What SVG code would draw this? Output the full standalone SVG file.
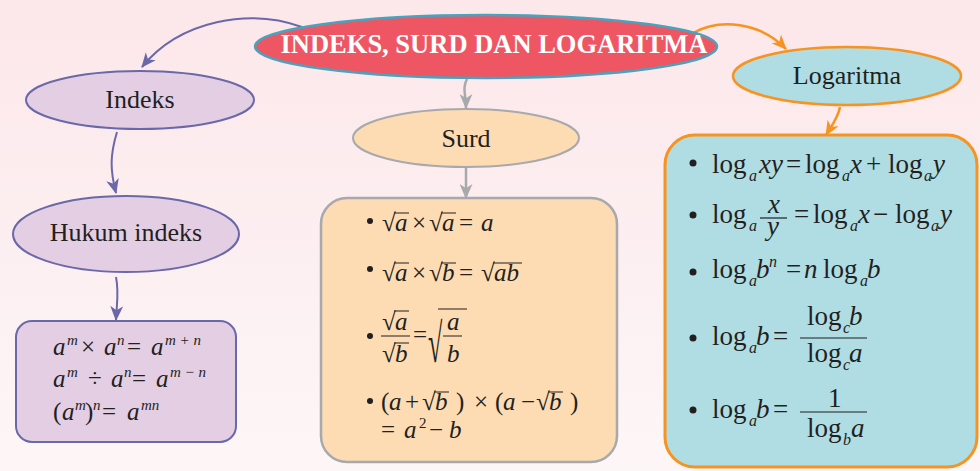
<svg xmlns="http://www.w3.org/2000/svg" width="980" height="471" viewBox="0 0 980 471">
<defs>
<linearGradient id="bg" x1="0" y1="0" x2="0" y2="1">
<stop offset="0" stop-color="#fce7ea"/>
<stop offset="1" stop-color="#fdf6f7"/>
</linearGradient>
<marker id="mP" viewBox="0 0 14 12" refX="13" refY="6" markerWidth="15" markerHeight="13" markerUnits="userSpaceOnUse" orient="auto"><path d="M0,0 L14,6 L0,12 L4,6 z" fill="#6a68a8"/></marker>
<marker id="mG" viewBox="0 0 14 12" refX="13" refY="6" markerWidth="15" markerHeight="13" markerUnits="userSpaceOnUse" orient="auto"><path d="M0,0 L14,6 L0,12 L4,6 z" fill="#a7a9ac"/></marker>
<marker id="mO" viewBox="0 0 14 12" refX="13" refY="6" markerWidth="15" markerHeight="13" markerUnits="userSpaceOnUse" orient="auto"><path d="M0,0 L14,6 L0,12 L4,6 z" fill="#f7931e"/></marker>
</defs>
<style>
.t{font-family:"Liberation Serif","Times New Roman",serif;fill:#231f20}
.lbl{font-size:26px;text-anchor:middle}
.f{font-size:25px}
.g{font-size:27px}
.i{font-style:italic}
.s{font-size:15px}
.s2{font-size:16px}
.bul{fill:#231f20}
.vp{stroke:#231f20;stroke-width:1.2;fill:none}
.cP{stroke:#6a68a8;stroke-width:2;fill:none}
.cG{stroke:#a7a9ac;stroke-width:2.5;fill:none}
.cO{stroke:#f7931e;stroke-width:2.5;fill:none}
</style>
<rect width="980" height="471" fill="url(#bg)"/>

<g id="connectors">
<path class="cP" d="M302 27 C250 8,180 20,142 67" marker-end="url(#mP)"/>
<path class="cP" d="M117 132 C110 155,110 170,116 193" marker-end="url(#mP)"/>
<path class="cP" d="M116 277 C119 292,117 300,116 320" marker-end="url(#mP)"/>
<path class="cG" d="M467 79 C462 88,466 95,466 108" marker-end="url(#mG)"/>
<path class="cG" d="M466 168 L466 198" marker-end="url(#mG)"/>
<path class="cO" d="M693 33 C720 18,760 22,786 49" marker-end="url(#mO)"/>
<path class="cO" d="M840 107 C838 118,832 125,826 135" marker-end="url(#mO)"/>
</g>

<g id="main">
<ellipse cx="486" cy="46.5" rx="231" ry="31.5" fill="#ef5663" stroke="#4aa2bd" stroke-width="2.5"/>
<text class="t" x="494" y="53" font-size="26.5" font-weight="bold" text-anchor="middle" style="fill:#ffffff">INDEKS, SURD DAN LOGARITMA</text>
</g>

<g id="indeks">
<ellipse cx="140" cy="100" rx="114" ry="29" fill="#e3cee4" stroke="#6a68a8" stroke-width="2"/>
<text class="t lbl" x="140" y="108">Indeks</text>
</g>

<g id="hukum">
<ellipse cx="126" cy="234" rx="113" ry="38" fill="#e3cee4" stroke="#6a68a8" stroke-width="2"/>
<text class="t lbl" x="126" y="241">Hukum indeks</text>
</g>

<g id="hukum-box">
<rect x="16" y="321" width="220" height="121" rx="16" fill="#e3cee4" stroke="#6a68a8" stroke-width="2"/>
<text class="t f"><tspan class="i" x="53" y="355">a</tspan><tspan class="i s" x="67" y="345">m</tspan><tspan x="81" y="355">×</tspan><tspan class="i" x="104" y="355">a</tspan><tspan class="i s" x="117" y="345">n</tspan><tspan x="127" y="355">=</tspan><tspan class="i" x="151" y="355">a</tspan><tspan class="i s" x="165" y="345">m + n</tspan></text>
<text class="t f"><tspan class="i" x="53" y="387">a</tspan><tspan class="i s" x="67" y="377">m</tspan><tspan x="88" y="387">÷</tspan><tspan class="i" x="111" y="387">a</tspan><tspan class="i s" x="124" y="377">n</tspan><tspan x="132" y="387">=</tspan><tspan class="i" x="156" y="387">a</tspan><tspan class="i s" x="170" y="377">m − n</tspan></text>
<text class="t f"><tspan x="53" y="420">(</tspan><tspan class="i" x="62" y="420">a</tspan><tspan class="i s" x="75" y="410">m</tspan><tspan x="85" y="420">)</tspan><tspan class="i s" x="93" y="410">n</tspan><tspan x="102" y="420">=</tspan><tspan class="i" x="127" y="420">a</tspan><tspan class="i s" x="141" y="410">mn</tspan></text>
</g>

<g id="surd">
<ellipse cx="466" cy="138" rx="113" ry="29" fill="#fddbb3" stroke="#a7a9ac" stroke-width="2"/>
<text class="t lbl" x="466" y="147">Surd</text>
</g>

<g id="surd-box">
<rect x="321" y="198" width="296" height="264" rx="26" fill="#fddbb3" stroke="#a7a9ac" stroke-width="2.5"/>
<circle class="bul" cx="370" cy="221" r="3"/>
<text class="t f" y="231"><tspan x="382">√</tspan><tspan class="i" x="395">a</tspan><tspan x="412">×</tspan><tspan x="429">√</tspan><tspan class="i" x="442">a</tspan><tspan x="459">=</tspan><tspan class="i" x="481">a</tspan></text>
<path class="vp" d="M394 213 H409 M441 213 H456"/>
<circle class="bul" cx="370" cy="269" r="3"/>
<text class="t f" y="281"><tspan x="382">√</tspan><tspan class="i" x="395">a</tspan><tspan x="412">×</tspan><tspan x="429">√</tspan><tspan class="i" x="442">b</tspan><tspan x="459">=</tspan><tspan x="481">√</tspan><tspan class="i" x="494">ab</tspan></text>
<path class="vp" d="M394 263 H409 M441 263 H456 M493 263 H522"/>
<circle class="bul" cx="370" cy="336" r="3"/>
<text class="t f"><tspan x="382" y="330">√</tspan><tspan class="i" x="395" y="330">a</tspan><tspan x="382" y="362">√</tspan><tspan class="i" x="395" y="362">b</tspan><tspan x="413" y="343">=</tspan><tspan class="i" x="447" y="330">a</tspan><tspan class="i" x="447" y="362">b</tspan></text>
<text class="t" font-size="26" transform="translate(428,362) scale(1,2.1)">√</text>
<path class="vp" d="M394 311 H409 M394 343 H409 M381 336 H410 M438 309 H467 M443 336 H462"/>
<circle class="bul" cx="370" cy="401" r="3"/>
<text class="t f" y="410"><tspan x="381">(</tspan><tspan class="i" x="389">a</tspan><tspan x="405">+</tspan><tspan x="422">√</tspan><tspan class="i" x="435">b</tspan><tspan x="456">)</tspan><tspan x="474">×</tspan><tspan x="495">(</tspan><tspan class="i" x="503">a</tspan><tspan x="521">−</tspan><tspan x="536">√</tspan><tspan class="i" x="549">b</tspan><tspan x="570">)</tspan></text>
<path class="vp" d="M434 392 H449 M548 392 H563"/>
<text class="t f"><tspan x="381" y="438">=</tspan><tspan class="i" x="404" y="438">a</tspan><tspan class="s" x="419" y="428">2</tspan><tspan x="429" y="438">−</tspan><tspan class="i" x="449" y="438">b</tspan></text>
</g>

<g id="logaritma">
<ellipse cx="847" cy="76" rx="114" ry="29" fill="#afdde3" stroke="#f7931e" stroke-width="2.5"/>
<text class="t lbl" x="847" y="84">Logaritma</text>
</g>

<g id="log-box">
<rect x="665" y="135" width="312" height="332" rx="30" fill="#afdde3" stroke="#f7931e" stroke-width="3"/>
<circle class="bul" cx="693" cy="163" r="3.5"/>
<text class="t g"><tspan x="712" y="173">log</tspan><tspan class="i s2" x="749" y="181">a</tspan><tspan class="i" x="759" y="173">xy</tspan><tspan x="786" y="173">=</tspan><tspan x="805" y="173">log</tspan><tspan class="i s2" x="842" y="181">a</tspan><tspan class="i" x="850" y="173">x</tspan><tspan x="866" y="173">+</tspan><tspan x="888" y="173">log</tspan><tspan class="i s2" x="924" y="181">a</tspan><tspan class="i" x="933" y="173">y</tspan></text>
<circle class="bul" cx="693" cy="215" r="3.5"/>
<text class="t g"><tspan x="712" y="223">log</tspan><tspan class="i s2" x="749" y="231">a</tspan><tspan x="794" y="223">=</tspan><tspan x="813" y="223">log</tspan><tspan class="i s2" x="850" y="231">a</tspan><tspan class="i" x="858" y="223">x</tspan><tspan x="873" y="223">−</tspan><tspan x="895" y="223">log</tspan><tspan class="i s2" x="931" y="231">a</tspan><tspan class="i" x="940" y="223">y</tspan></text>
<text class="t g i" x="768" y="213">x</text>
<text class="t g i" x="767" y="235">y</text>
<path class="vp" d="M760 218 H787"/>
<circle class="bul" cx="693" cy="272" r="3.5"/>
<text class="t g"><tspan x="712" y="278">log</tspan><tspan class="i s2" x="749" y="286">a</tspan><tspan class="i" x="756" y="278">b</tspan><tspan class="i s2" x="769" y="267">n</tspan><tspan x="786" y="278">=</tspan><tspan class="i" x="804" y="278">n</tspan><tspan x="823" y="278">log</tspan><tspan class="i s2" x="860" y="286">a</tspan><tspan class="i" x="867" y="278">b</tspan></text>
<circle class="bul" cx="693" cy="338" r="3.5"/>
<text class="t g"><tspan x="712" y="345">log</tspan><tspan class="i s2" x="749" y="353">a</tspan><tspan class="i" x="756" y="345">b</tspan><tspan x="773" y="345">=</tspan><tspan x="807" y="325">log</tspan><tspan class="i s2" x="843" y="333">c</tspan><tspan class="i" x="849" y="325">b</tspan><tspan x="807" y="362">log</tspan><tspan class="i s2" x="843" y="370">c</tspan><tspan class="i" x="849" y="362">a</tspan></text>
<path class="vp" d="M800 338 H867"/>
<circle class="bul" cx="693" cy="410" r="3.5"/>
<text class="t g"><tspan x="712" y="418">log</tspan><tspan class="i s2" x="749" y="426">a</tspan><tspan class="i" x="756" y="418">b</tspan><tspan x="773" y="418">=</tspan><tspan x="828" y="407">1</tspan><tspan x="807" y="437">log</tspan><tspan class="i s2" x="843" y="445">b</tspan><tspan class="i" x="851" y="437">a</tspan></text>
<path class="vp" d="M800 412 H867"/>
</g>
</svg>
